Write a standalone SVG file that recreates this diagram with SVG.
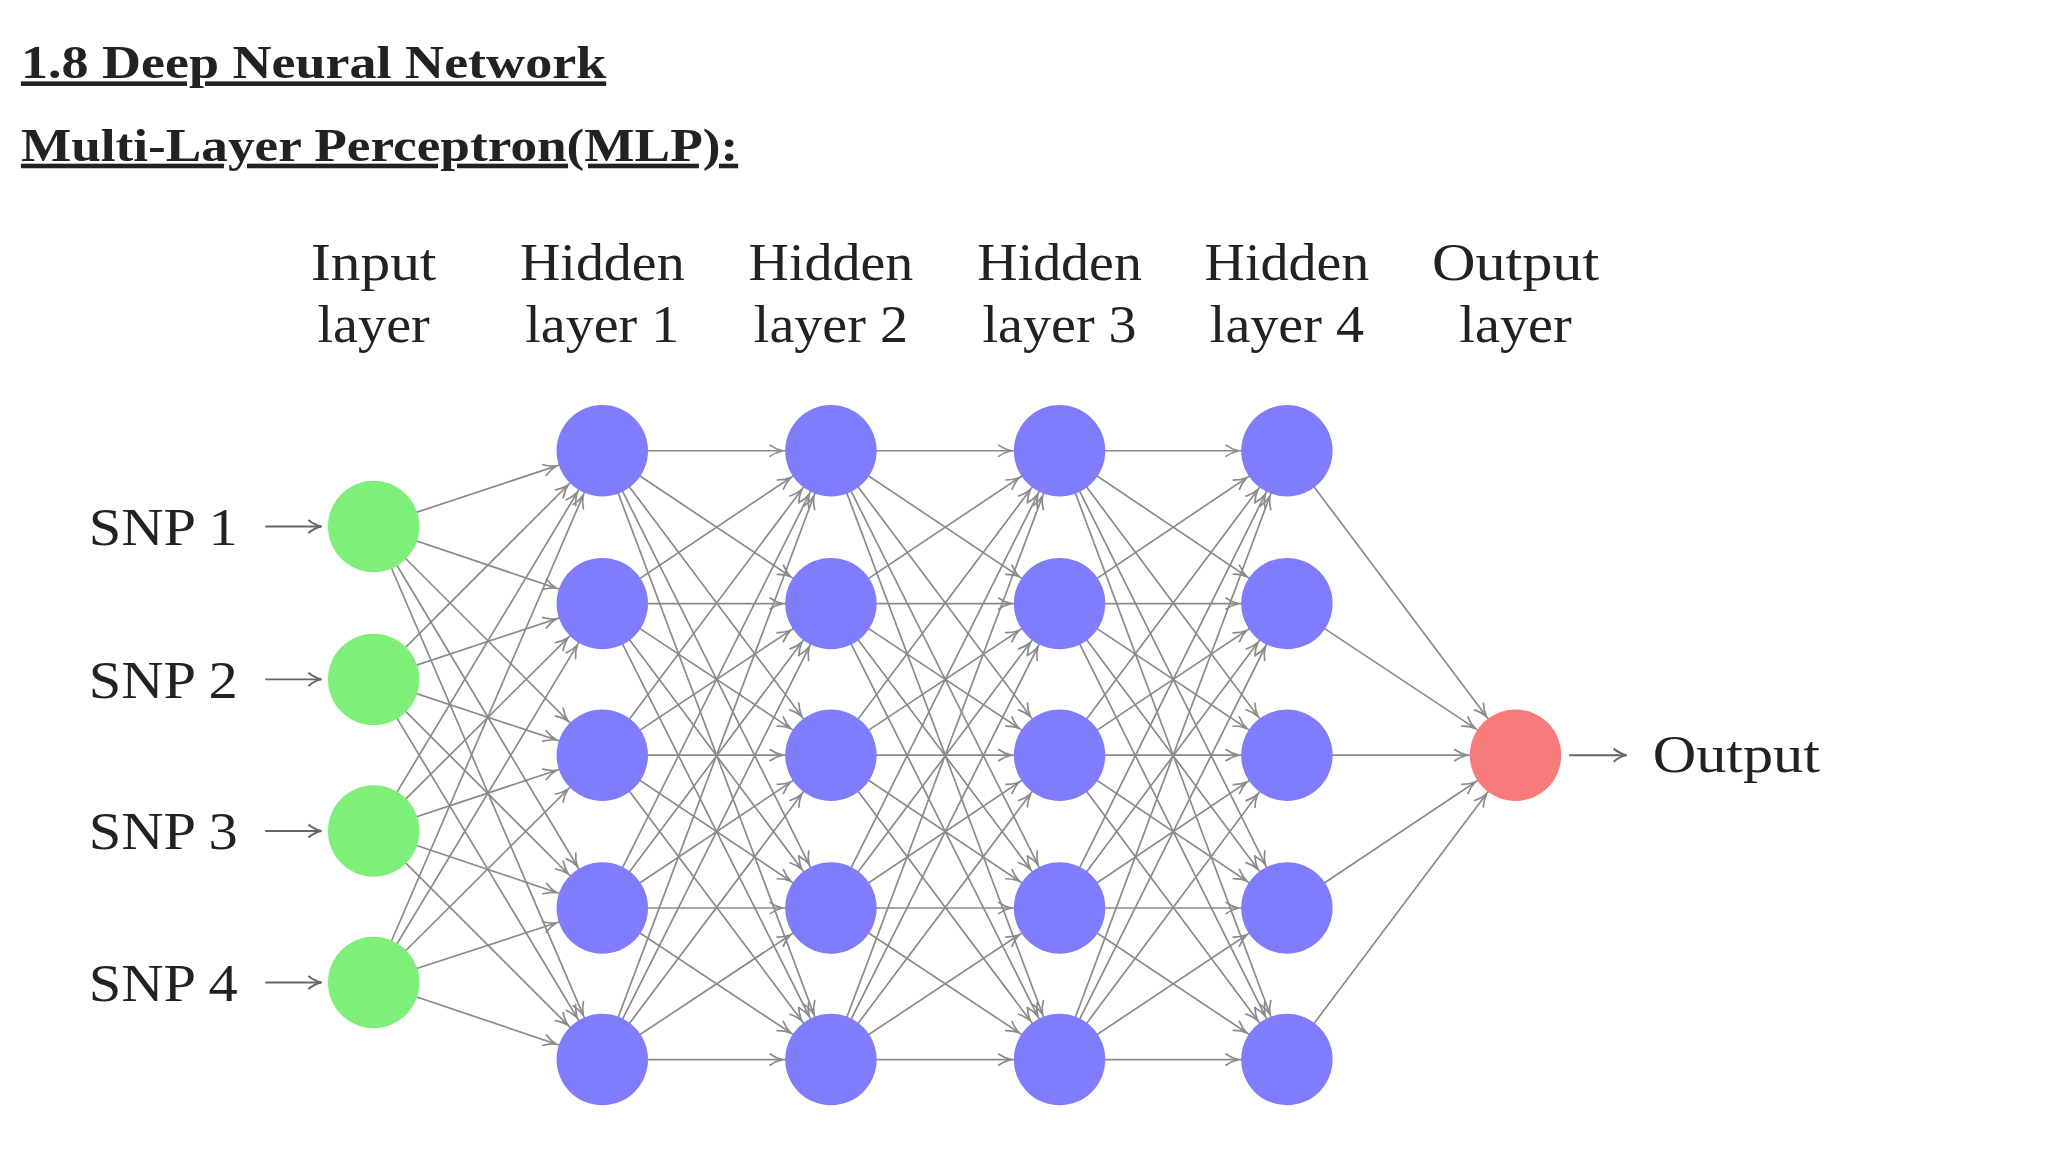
<svg xmlns="http://www.w3.org/2000/svg" width="2048" height="1152" viewBox="0 0 2048 1152">
<style>
.t{font-family:"Liberation Serif",serif;font-weight:bold;font-size:35px;fill:#222;text-decoration:underline}
.l{font-family:"Liberation Serif",serif;font-size:40px;fill:#222;text-anchor:middle}
.s{font-family:"Liberation Serif",serif;font-size:40px;fill:#222}
#edges line{stroke:#8a8a8a;stroke-width:1.3;marker-end:url(#a)}
.io{stroke:#666;stroke-width:1.5;marker-end:url(#b)}
.in{fill:#7ef07a}.hd{fill:#7f7dfb}.ou{fill:#f77b7b}
</style>
<defs>
<marker id="a" markerUnits="userSpaceOnUse" markerWidth="10" markerHeight="10" refX="0" refY="0" orient="auto" overflow="visible"><path d="M-47,-4.5 Q-42,-1 -37,0 Q-42,1 -47,4.5" fill="none" stroke="#8a8a8a" stroke-width="1.3"/></marker>
<marker id="b" markerUnits="userSpaceOnUse" markerWidth="10" markerHeight="10" refX="0" refY="0" orient="auto" overflow="visible"><path d="M-10,-5 Q-5,-1 0,0 Q-5,1 -10,5" fill="none" stroke="#666" stroke-width="1.5"/></marker>
</defs>
<rect width="2048" height="1152" fill="#fff"/>
<g transform="scale(1.3065)">
<text class="t" x="16" y="60" textLength="448" lengthAdjust="spacingAndGlyphs">1.8 Deep Neural Network</text>
<text class="t" x="16" y="123" textLength="549" lengthAdjust="spacingAndGlyphs">Multi-Layer Perceptron(MLP):</text>
<g id="headers">
<text class="l" x="286" y="214" textLength="96" lengthAdjust="spacingAndGlyphs">Input</text><text class="l" x="286" y="262" textLength="86" lengthAdjust="spacingAndGlyphs">layer</text>
<text class="l" x="461" y="214" textLength="126" lengthAdjust="spacingAndGlyphs">Hidden</text><text class="l" x="461" y="262" textLength="118" lengthAdjust="spacingAndGlyphs">layer 1</text>
<text class="l" x="636" y="214" textLength="126" lengthAdjust="spacingAndGlyphs">Hidden</text><text class="l" x="636" y="262" textLength="118" lengthAdjust="spacingAndGlyphs">layer 2</text>
<text class="l" x="811" y="214" textLength="126" lengthAdjust="spacingAndGlyphs">Hidden</text><text class="l" x="811" y="262" textLength="118" lengthAdjust="spacingAndGlyphs">layer 3</text>
<text class="l" x="985" y="214" textLength="126" lengthAdjust="spacingAndGlyphs">Hidden</text><text class="l" x="985" y="262" textLength="118" lengthAdjust="spacingAndGlyphs">layer 4</text>
<text class="l" x="1160" y="214" textLength="128" lengthAdjust="spacingAndGlyphs">Output</text><text class="l" x="1160" y="262" textLength="86" lengthAdjust="spacingAndGlyphs">layer</text>
</g>
<g id="edges">
<line x1="286" y1="403" x2="461" y2="345"/><line x1="286" y1="403" x2="461" y2="462"/><line x1="286" y1="403" x2="461" y2="578"/><line x1="286" y1="403" x2="461" y2="695"/><line x1="286" y1="403" x2="461" y2="811"/>
<line x1="286" y1="520" x2="461" y2="345"/><line x1="286" y1="520" x2="461" y2="462"/><line x1="286" y1="520" x2="461" y2="578"/><line x1="286" y1="520" x2="461" y2="695"/><line x1="286" y1="520" x2="461" y2="811"/>
<line x1="286" y1="636" x2="461" y2="345"/><line x1="286" y1="636" x2="461" y2="462"/><line x1="286" y1="636" x2="461" y2="578"/><line x1="286" y1="636" x2="461" y2="695"/><line x1="286" y1="636" x2="461" y2="811"/>
<line x1="286" y1="752" x2="461" y2="345"/><line x1="286" y1="752" x2="461" y2="462"/><line x1="286" y1="752" x2="461" y2="578"/><line x1="286" y1="752" x2="461" y2="695"/><line x1="286" y1="752" x2="461" y2="811"/>
<line x1="461" y1="345" x2="636" y2="345"/><line x1="461" y1="345" x2="636" y2="462"/><line x1="461" y1="345" x2="636" y2="578"/><line x1="461" y1="345" x2="636" y2="695"/><line x1="461" y1="345" x2="636" y2="811"/>
<line x1="461" y1="462" x2="636" y2="345"/><line x1="461" y1="462" x2="636" y2="462"/><line x1="461" y1="462" x2="636" y2="578"/><line x1="461" y1="462" x2="636" y2="695"/><line x1="461" y1="462" x2="636" y2="811"/>
<line x1="461" y1="578" x2="636" y2="345"/><line x1="461" y1="578" x2="636" y2="462"/><line x1="461" y1="578" x2="636" y2="578"/><line x1="461" y1="578" x2="636" y2="695"/><line x1="461" y1="578" x2="636" y2="811"/>
<line x1="461" y1="695" x2="636" y2="345"/><line x1="461" y1="695" x2="636" y2="462"/><line x1="461" y1="695" x2="636" y2="578"/><line x1="461" y1="695" x2="636" y2="695"/><line x1="461" y1="695" x2="636" y2="811"/>
<line x1="461" y1="811" x2="636" y2="345"/><line x1="461" y1="811" x2="636" y2="462"/><line x1="461" y1="811" x2="636" y2="578"/><line x1="461" y1="811" x2="636" y2="695"/><line x1="461" y1="811" x2="636" y2="811"/>
<line x1="636" y1="345" x2="811" y2="345"/><line x1="636" y1="345" x2="811" y2="462"/><line x1="636" y1="345" x2="811" y2="578"/><line x1="636" y1="345" x2="811" y2="695"/><line x1="636" y1="345" x2="811" y2="811"/>
<line x1="636" y1="462" x2="811" y2="345"/><line x1="636" y1="462" x2="811" y2="462"/><line x1="636" y1="462" x2="811" y2="578"/><line x1="636" y1="462" x2="811" y2="695"/><line x1="636" y1="462" x2="811" y2="811"/>
<line x1="636" y1="578" x2="811" y2="345"/><line x1="636" y1="578" x2="811" y2="462"/><line x1="636" y1="578" x2="811" y2="578"/><line x1="636" y1="578" x2="811" y2="695"/><line x1="636" y1="578" x2="811" y2="811"/>
<line x1="636" y1="695" x2="811" y2="345"/><line x1="636" y1="695" x2="811" y2="462"/><line x1="636" y1="695" x2="811" y2="578"/><line x1="636" y1="695" x2="811" y2="695"/><line x1="636" y1="695" x2="811" y2="811"/>
<line x1="636" y1="811" x2="811" y2="345"/><line x1="636" y1="811" x2="811" y2="462"/><line x1="636" y1="811" x2="811" y2="578"/><line x1="636" y1="811" x2="811" y2="695"/><line x1="636" y1="811" x2="811" y2="811"/>
<line x1="811" y1="345" x2="985" y2="345"/><line x1="811" y1="345" x2="985" y2="462"/><line x1="811" y1="345" x2="985" y2="578"/><line x1="811" y1="345" x2="985" y2="695"/><line x1="811" y1="345" x2="985" y2="811"/>
<line x1="811" y1="462" x2="985" y2="345"/><line x1="811" y1="462" x2="985" y2="462"/><line x1="811" y1="462" x2="985" y2="578"/><line x1="811" y1="462" x2="985" y2="695"/><line x1="811" y1="462" x2="985" y2="811"/>
<line x1="811" y1="578" x2="985" y2="345"/><line x1="811" y1="578" x2="985" y2="462"/><line x1="811" y1="578" x2="985" y2="578"/><line x1="811" y1="578" x2="985" y2="695"/><line x1="811" y1="578" x2="985" y2="811"/>
<line x1="811" y1="695" x2="985" y2="345"/><line x1="811" y1="695" x2="985" y2="462"/><line x1="811" y1="695" x2="985" y2="578"/><line x1="811" y1="695" x2="985" y2="695"/><line x1="811" y1="695" x2="985" y2="811"/>
<line x1="811" y1="811" x2="985" y2="345"/><line x1="811" y1="811" x2="985" y2="462"/><line x1="811" y1="811" x2="985" y2="578"/><line x1="811" y1="811" x2="985" y2="695"/><line x1="811" y1="811" x2="985" y2="811"/>
<line x1="985" y1="345" x2="1160" y2="578"/><line x1="985" y1="462" x2="1160" y2="578"/><line x1="985" y1="578" x2="1160" y2="578"/><line x1="985" y1="695" x2="1160" y2="578"/><line x1="985" y1="811" x2="1160" y2="578"/>
</g>
<g id="io-arrows">
<line class="io" x1="203" y1="403" x2="246" y2="403"/><line class="io" x1="203" y1="520" x2="246" y2="520"/><line class="io" x1="203" y1="636" x2="246" y2="636"/><line class="io" x1="203" y1="752" x2="246" y2="752"/>
<line class="io" x1="1201" y1="578" x2="1245" y2="578"/>
</g>
<g id="labels">
<text class="s" x="68" y="417" textLength="114" lengthAdjust="spacingAndGlyphs">SNP 1</text><text class="s" x="68" y="534" textLength="114" lengthAdjust="spacingAndGlyphs">SNP 2</text><text class="s" x="68" y="650" textLength="114" lengthAdjust="spacingAndGlyphs">SNP 3</text><text class="s" x="68" y="766" textLength="114" lengthAdjust="spacingAndGlyphs">SNP 4</text>
<text class="s" x="1265" y="591" textLength="128" lengthAdjust="spacingAndGlyphs">Output</text>
</g>
<g id="input"><circle class="in" cx="286" cy="403" r="35"/><circle class="in" cx="286" cy="520" r="35"/><circle class="in" cx="286" cy="636" r="35"/><circle class="in" cx="286" cy="752" r="35"/></g>
<g id="hidden1"><circle class="hd" cx="461" cy="345" r="35"/><circle class="hd" cx="461" cy="462" r="35"/><circle class="hd" cx="461" cy="578" r="35"/><circle class="hd" cx="461" cy="695" r="35"/><circle class="hd" cx="461" cy="811" r="35"/></g>
<g id="hidden2"><circle class="hd" cx="636" cy="345" r="35"/><circle class="hd" cx="636" cy="462" r="35"/><circle class="hd" cx="636" cy="578" r="35"/><circle class="hd" cx="636" cy="695" r="35"/><circle class="hd" cx="636" cy="811" r="35"/></g>
<g id="hidden3"><circle class="hd" cx="811" cy="345" r="35"/><circle class="hd" cx="811" cy="462" r="35"/><circle class="hd" cx="811" cy="578" r="35"/><circle class="hd" cx="811" cy="695" r="35"/><circle class="hd" cx="811" cy="811" r="35"/></g>
<g id="hidden4"><circle class="hd" cx="985" cy="345" r="35"/><circle class="hd" cx="985" cy="462" r="35"/><circle class="hd" cx="985" cy="578" r="35"/><circle class="hd" cx="985" cy="695" r="35"/><circle class="hd" cx="985" cy="811" r="35"/></g>
<g id="output"><circle class="ou" cx="1160" cy="578" r="35"/></g>
</g>
</svg>
